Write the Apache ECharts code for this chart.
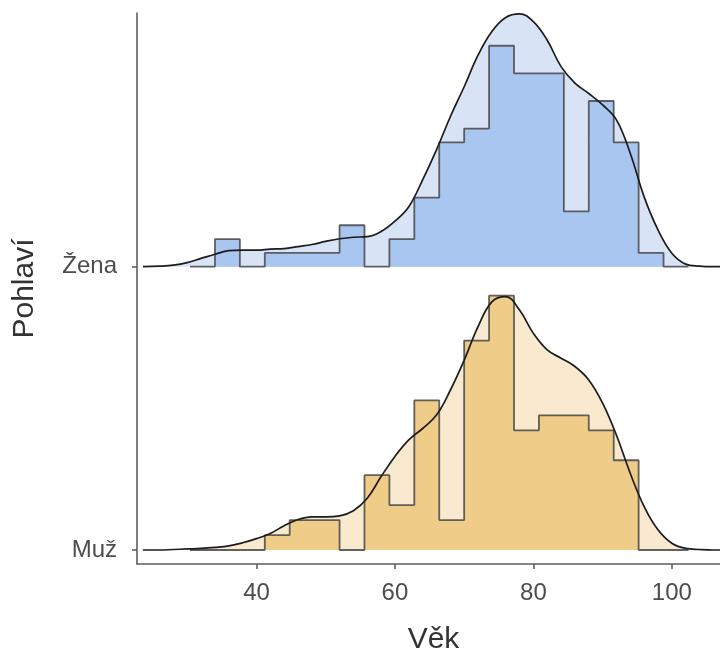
<!DOCTYPE html>
<html>
<head>
<meta charset="utf-8">
<script src="https://cdn.jsdelivr.net/npm/echarts@6/dist/echarts.min.js"></script>
<style>
  html, body { margin: 0; padding: 0; background: #ffffff; }
  #chart { width: 720px; height: 655px; }
</style>
</head>
<body>
<div id="chart"></div>
<script>
// ---------------- data ----------------
const groups = ['Muž', 'Žena'];            // ridge order: bottom -> top
const binEdges = [30.4, 34.0, 37.6, 41.2, 44.8, 48.4, 52.0, 55.6, 59.2, 62.8, 66.4,
                  70.0, 73.6, 77.2, 80.8, 84.4, 88.0, 91.6, 95.2, 98.8, 102.4];
const zenaCounts = [0, 2, 0, 1, 1, 1, 3, 0, 2, 5, 9, 10, 16, 14, 14, 4, 12, 9, 1, 0];
const muzCounts  = [0, 0, 0, 1, 2, 2, 0, 5, 3, 10, 2, 14, 17, 8, 9, 9, 8, 6, 0, 0];

const densityX = [23.6, 26, 28, 30, 32, 34, 36, 38, 40, 42, 44, 46, 48, 50, 52, 54, 56, 58, 60,
                  62, 64, 66, 68, 70, 72, 74, 76, 78, 80, 82, 84, 86, 88, 90, 92, 94, 96, 98,
                  100, 102, 104, 106, 108];
const zenaDensity = [0, 0.0001, 0.0003, 0.0008, 0.0016, 0.0024, 0.0031, 0.0032, 0.0032, 0.0034,
                     0.0035, 0.0039, 0.0043, 0.0049, 0.0054, 0.0057, 0.0058, 0.0068, 0.0088,
                     0.0116, 0.0168, 0.0226, 0.0290, 0.0348, 0.0409, 0.0455, 0.0482, 0.0489,
                     0.0474, 0.0438, 0.0387, 0.0355, 0.0335, 0.0313, 0.0284, 0.0219, 0.0135,
                     0.0071, 0.0026, 0.0005, 0.0001, 0, 0];
const muzDensity  = [0, 0, 0.0001, 0.0002, 0.0003, 0.0005, 0.0008, 0.0014, 0.0022, 0.0032,
                     0.0047, 0.0059, 0.0064, 0.0064, 0.0066, 0.0076, 0.0100, 0.0142, 0.0181,
                     0.0213, 0.0235, 0.0261, 0.0309, 0.0367, 0.0432, 0.0480, 0.0490, 0.0464,
                     0.0419, 0.0387, 0.0371, 0.0355, 0.0329, 0.0284, 0.0222, 0.0148, 0.0084,
                     0.0039, 0.0013, 0.0003, 0.0001, 0, 0];

const xTicks = [40, 60, 80, 100];

// ---------------- build ----------------
const ridgeScale = 18.25;   // density -> ridge height (baseline spacing = 1)
const binWidth = binEdges[1] - binEdges[0];

function histPoints(counts, base) {
  const n = counts.reduce((a, b) => a + b, 0);
  const pts = counts.map((c, i) => [binEdges[i], base + ridgeScale * c / (n * binWidth)]);
  pts.push([binEdges[binEdges.length - 1], base + ridgeScale * counts[counts.length - 1] / (n * binWidth)]);
  return pts;
}
function densPoints(dens, base) {
  return densityX.map((x, i) => [x, base + ridgeScale * dens[i]]);
}

const styles = {
  'Žena': { hist: '#a8c6f0', dens: '#d8e4f6', counts: zenaCounts, density: zenaDensity, base: 1 },
  'Muž':  { hist: '#efcc88', dens: '#f8e9cf', counts: muzCounts,  density: muzDensity,  base: 0 }
};

const series = [];
groups.forEach(g => {
  const s = styles[g];
  series.push({
    type: 'line', name: g + ' density fill', data: densPoints(s.density, s.base),
    smooth: 0.4, symbol: 'none', silent: true, z: 1,
    lineStyle: { width: 0, opacity: 0 },
    areaStyle: { color: s.dens, opacity: 1, origin: s.base }
  });
  series.push({
    type: 'line', name: g + ' histogram', data: histPoints(s.counts, s.base),
    step: 'end', symbol: 'none', silent: true, z: 2,
    lineStyle: { color: '#484848', width: 1.8, opacity: 0.85 },
    areaStyle: { color: s.hist, opacity: 1, origin: s.base }
  });
  series.push({
    type: 'line', name: g + ' density', data: densPoints(s.density, s.base),
    smooth: 0.4, symbol: 'none', silent: true, z: 3,
    lineStyle: { color: '#1c1c1c', width: 1.7 }
  });
});

const chart = echarts.init(document.getElementById('chart'), null, { renderer: 'canvas' });
chart.setOption({
  animation: false,
  backgroundColor: '#ffffff',
  grid: { left: 137, right: -10, top: 13, bottom: 91, containLabel: false, outerBoundsMode: 'none' },
  xAxis: {
    type: 'value', min: 22.74, max: 108.4,
    name: 'Věk', nameLocation: 'middle', nameGap: 61,
    nameTextStyle: { fontFamily: 'Liberation Sans, Arial, sans-serif', fontSize: 30, color: '#333333' },
    axisLine: { show: true, onZero: false, lineStyle: { color: '#5e5e5e', width: 1.6 } },
    axisTick: { show: true, length: 5, customValues: xTicks, lineStyle: { color: '#5e5e5e', width: 1.6 } },
    axisLabel: { customValues: xTicks, margin: 17, fontFamily: 'Liberation Sans, Arial, sans-serif', fontSize: 24, color: '#4d4d4d' },
    splitLine: { show: false }
  },
  yAxis: {
    type: 'value', min: -0.0494, max: 1.8955,
    name: 'Pohlaví', nameLocation: 'middle', nameGap: 97,
    nameTextStyle: { fontFamily: 'Liberation Sans, Arial, sans-serif', fontSize: 30, color: '#333333' },
    axisLine: { show: true, onZero: false, lineStyle: { color: '#5e5e5e', width: 1.6 } },
    axisTick: { show: true, length: 5, customValues: [0, 1], lineStyle: { color: '#5e5e5e', width: 1.6 } },
    axisLabel: {
      customValues: [0, 1], margin: 20,
      fontFamily: 'Liberation Sans, Arial, sans-serif', fontSize: 24, color: '#4d4d4d',
      formatter: v => groups[Math.round(v)] || ''
    },
    splitLine: { show: false }
  },
  series: series
});
</script>
</body>
</html>
